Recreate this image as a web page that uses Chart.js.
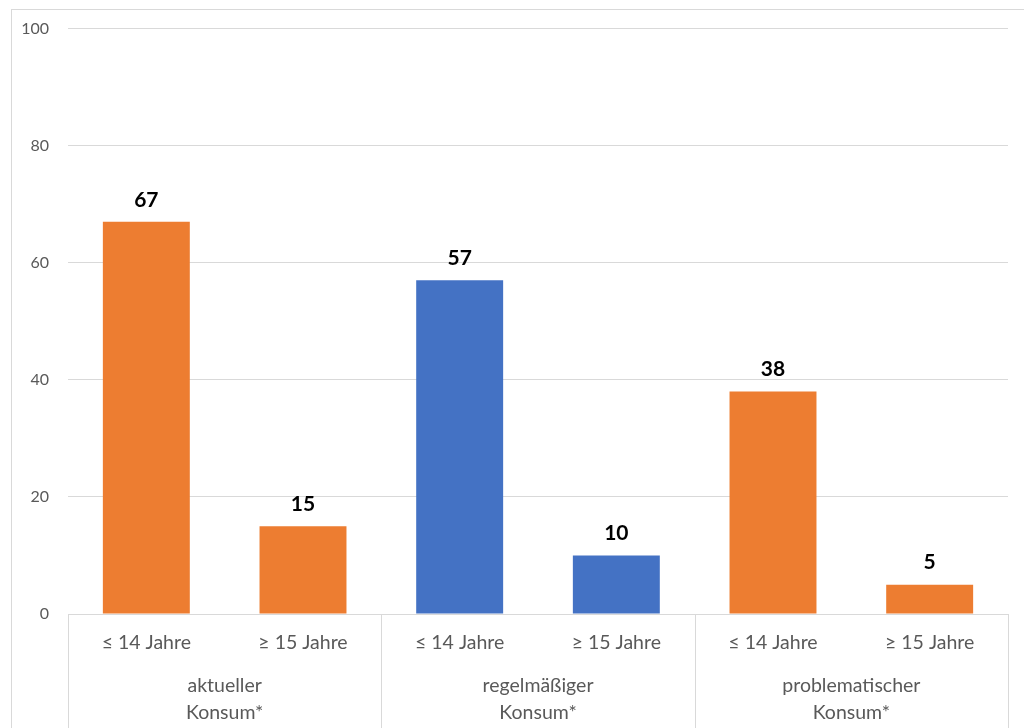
<!DOCTYPE html>
<html>
<head>
<meta charset="utf-8">
<style>
  html, body { margin: 0; padding: 0; background: #ffffff; }
  #wrap { width: 1024px; height: 728px; position: relative; }
</style>
<script src="https://cdn.jsdelivr.net/npm/chart.js@4/dist/chart.umd.min.js"></script>
</head>
<body>
<div id="wrap"><canvas id="chart" width="1024" height="728"></canvas></div>
<script>
// Age groups per bar, and the consumption group each pair belongs to
const ageLabels = ['≤ 14 Jahre', '≥ 15 Jahre', '≤ 14 Jahre', '≥ 15 Jahre', '≤ 14 Jahre', '≥ 15 Jahre'];
const groupLabels = [['aktueller', 'Konsum*'], ['regelmäßiger', 'Konsum*'], ['problematischer', 'Konsum*']];
const values = [67, 15, 57, 10, 38, 5];
const barColors = ['#ED7D31', '#ED7D31', '#4472C4', '#4472C4', '#ED7D31', '#ED7D31'];
const yTicks = [0, 20, 40, 60, 80, 100];

const FONT = 'Lato, "Open Sans", "Liberation Sans", sans-serif';
const TEXT_GRAY = '#595959';
const LINE_GRAY = '#d9d9d9';

// Light frame around the whole chart
const framePlugin = {
  id: 'frame',
  beforeDraw(chart) {
    const ctx = chart.ctx;
    ctx.save();
    ctx.strokeStyle = LINE_GRAY;
    ctx.lineWidth = 1;
    ctx.strokeRect(11.5, 9.5, 1100, 1000);
    ctx.restore();
  }
};

// Value labels above each bar
const valueLabelPlugin = {
  id: 'valueLabels',
  afterDatasetsDraw(chart) {
    const ctx = chart.ctx;
    const meta = chart.getDatasetMeta(0);
    ctx.save();
    ctx.font = 'bold 21px ' + FONT;
    ctx.fillStyle = '#000000';
    ctx.textAlign = 'center';
    ctx.textBaseline = 'middle';
    meta.data.forEach((bar, i) => {
      ctx.fillText(String(values[i]), bar.x, bar.y - 22);
    });
    ctx.restore();
  }
};

// Second row of category labels with separators between the groups
const groupAxisPlugin = {
  id: 'groupAxis',
  afterDraw(chart) {
    const ctx = chart.ctx;
    const x = chart.scales.x;
    const area = chart.chartArea;
    const step = (x.right - x.left) / ageLabels.length;
    ctx.save();
    ctx.strokeStyle = LINE_GRAY;
    ctx.lineWidth = 1;
    for (let g = 0; g <= groupLabels.length; g++) {
      const px = Math.round(x.left + g * 2 * step) + 0.5;
      ctx.beginPath();
      ctx.moveTo(px, area.bottom);
      ctx.lineTo(px, chart.height);
      ctx.stroke();
    }
    ctx.font = '19.5px ' + FONT;
    ctx.fillStyle = TEXT_GRAY;
    ctx.textAlign = 'center';
    ctx.textBaseline = 'middle';
    groupLabels.forEach((lines, g) => {
      const cx = x.left + (g * 2 + 1) * step;
      lines.forEach((line, j) => {
        ctx.fillText(line, cx, area.bottom + 72 + j * 27);
      });
    });
    ctx.restore();
  }
};

new Chart(document.getElementById('chart'), {
  type: 'bar',
  data: {
    labels: ageLabels,
    datasets: [{
      data: values,
      backgroundColor: barColors,
      borderWidth: 0,
      categoryPercentage: 1.0,
      barPercentage: 0.555
    }]
  },
  options: {
    responsive: false,
    animation: false,
    devicePixelRatio: 1,
    layout: { padding: { left: 11, right: 16, top: 27, bottom: 0 } },
    plugins: {
      legend: { display: false },
      tooltip: { enabled: false }
    },
    scales: {
      x: {
        grid: { display: false, drawTicks: false },
        border: { display: true, color: LINE_GRAY, width: 1 },
        ticks: {
          color: TEXT_GRAY,
          font: { family: FONT, size: 19.5 },
          padding: 17,
          maxRotation: 0,
          autoSkip: false
        },
        afterFit(scale) { scale.height = 114; }
      },
      y: {
        min: 0,
        max: 100,
        afterBuildTicks(scale) { scale.ticks = yTicks.map(v => ({ value: v })); },
        grid: { color: LINE_GRAY, drawTicks: false, lineWidth: 1 },
        border: { display: false },
        ticks: {
          color: TEXT_GRAY,
          font: { family: FONT, size: 16 },
          padding: 19
        },
        afterFit(scale) { scale.width = 57; }
      }
    }
  },
  plugins: [framePlugin, valueLabelPlugin, groupAxisPlugin]
});
</script>
</body>
</html>
